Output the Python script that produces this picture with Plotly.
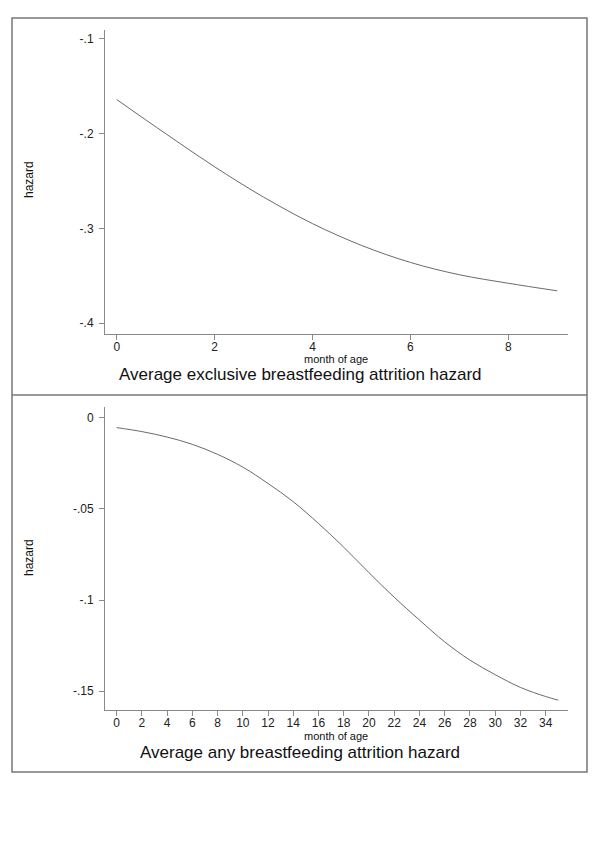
import plotly.graph_objects as go

# exclusive breastfeeding, months 0..9
excl_month = [0, 1, 2, 3, 4, 5, 6, 7, 8, 9]
excl_hazard = [-0.164, -0.200, -0.235, -0.267, -0.295, -0.318, -0.336, -0.349, -0.358, -0.366]

# any breastfeeding, months 0..35
any_month = [0, 2, 4, 6, 8, 10, 12, 14, 16, 18, 20, 22, 24, 26, 28, 30, 32, 34, 35]
any_hazard = [-0.0053, -0.0075, -0.0105, -0.0145, -0.020, -0.027, -0.036, -0.046, -0.058,
              -0.071, -0.085, -0.0985, -0.111, -0.123, -0.133, -0.141, -0.148, -0.153, -0.155]

excl_yticks = [-0.1, -0.2, -0.3, -0.4]
excl_ylabels = ['-.1', '-.2', '-.3', '-.4']
excl_xticks = [0, 2, 4, 6, 8]
any_yticks = [0, -0.05, -0.1, -0.15]
any_ylabels = ['0', '-.05', '-.1', '-.15']
any_xticks = list(range(0, 35, 2))

titles = ['Average exclusive breastfeeding attrition hazard',
          'Average any breastfeeding attrition hazard']

# page body has an 8px margin, so the figure is a bit smaller and shifted
OFF = 8
W, H = 584, 832
FONT = 'Liberation Sans, Arial, sans-serif'
AX = '#8a8a8a'


def px(x):
    return (x - OFF) / W


def py(y):
    return 1 - (y - OFF) / H


fig = go.Figure()
fig.add_trace(go.Scatter(x=excl_month, y=excl_hazard, mode='lines', line_shape='spline',
                         line=dict(color='#6a6a6a', width=1), xaxis='x', yaxis='y'))
fig.add_trace(go.Scatter(x=any_month, y=any_hazard, mode='lines', line_shape='spline',
                         line=dict(color='#6a6a6a', width=1), xaxis='x2', yaxis='y2'))

axis_common = dict(showline=True, linecolor=AX, linewidth=1, ticks='outside', ticklen=5,
                   tickcolor=AX, showgrid=False, zeroline=False,
                   tickfont=dict(family=FONT, size=12, color='#222'))

fig.update_layout(
    width=W, height=H, autosize=False, showlegend=False,
    paper_bgcolor='white', plot_bgcolor='white',
    margin=dict(l=0, r=0, t=0, b=0),
    xaxis=dict(domain=[px(105), px(568)], range=[-0.24, 9.22], anchor='y',
               tickvals=excl_xticks, ticklabelstandoff=-3, **axis_common),
    yaxis=dict(domain=[py(334), py(30)], range=[-0.4116, -0.0905], anchor='x',
               tickvals=excl_yticks, ticktext=excl_ylabels, ticklabelstandoff=3, **axis_common),
    xaxis2=dict(domain=[px(105), px(568)], range=[-0.92, 35.77], anchor='y2',
                tickvals=any_xticks, ticklabelstandoff=-3, **axis_common),
    yaxis2=dict(domain=[py(710), py(407)], range=[-0.1604, 0.006], anchor='x2',
                tickvals=any_yticks, ticktext=any_ylabels, ticklabelstandoff=3, **axis_common),
)

# outer frame and divider
fig.add_shape(type='rect', xref='paper', yref='paper', x0=px(12), x1=px(587), y0=py(772), y1=py(18),
              line=dict(color='#777', width=1.5))
fig.add_shape(type='line', xref='paper', yref='paper', x0=px(12), x1=px(587), y0=py(395), y1=py(395),
              line=dict(color='#777', width=1.5))


def label(text, x, y, size, angle=0):
    fig.add_annotation(text=text, x=px(x), y=py(y), xref='paper', yref='paper',
                       xanchor='center', yanchor='middle', textangle=angle, showarrow=False,
                       font=dict(family=FONT, size=size, color='#111'))


for yc, title, ys, ym in [(180, titles[0], 375, 359), (558, titles[1], 752, 736)]:
    label('hazard', 29, yc, 12, -90)
    label(title, 300, ys, 17)
    label('month of age', 336, ym, 11)

fig.write_html('out.html')
